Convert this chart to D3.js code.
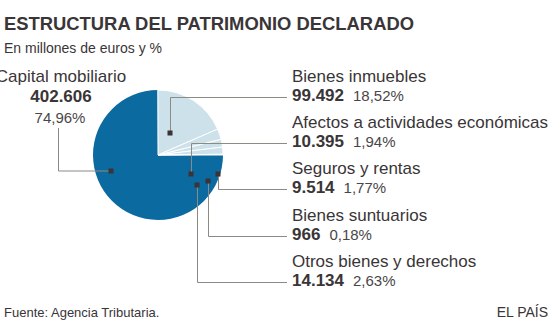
<!DOCTYPE html>
<html>
<head>
<meta charset="utf-8">
<script src="https://cdn.jsdelivr.net/npm/d3@7"></script>
<style>
  html, body { margin: 0; padding: 0; background: #fff; }
  svg { display: block; font-family: "Liberation Sans", Arial, sans-serif; }
</style>
</head>
<body>
<svg id="chart" width="560" height="326"></svg>
<script>
// Patrimonio declarado por tipo de bien (millones de euros)
const categories = [
  "Capital mobiliario",
  "Bienes inmuebles",
  "Afectos a actividades económicas",
  "Seguros y rentas",
  "Bienes suntuarios",
  "Otros bienes y derechos"
];
const values = [402606, 99492, 10395, 9514, 966, 14134];
const valueLabels = ["402.606", "99.492", "10.395", "9.514", "966", "14.134"];
const shareLabels = ["74,96%", "18,52%", "1,94%", "1,77%", "0,18%", "2,63%"];

// Layout
const cx = 158, cy = 155, radius = 65;
const darkBlue = "#0b6aa0", lightBlue = "#cde1eb";
const ink = "#3a3537", lineGrey = "#8c8b83", pctGrey = "#4a4648";

// Leader-line anchors inside the pie (offsets from the centre)
const anchors = [
  [-47, 16], [12, -22], [33, 19], [60, 19], [50, 26], [39, 30]
];
// Label rows on the right-hand side (baseline of the name line)
const rowTop = 82, rowStep = 46.2, labelX = 292, lineEndX = 287;

const svg = d3.select("#chart");

svg.append("text")
  .attr("x", 4).attr("y", 30)
  .attr("font-size", 19).attr("font-weight", "bold")
  .attr("fill", ink)
  .attr("textLength", 410).attr("lengthAdjust", "spacingAndGlyphs")
  .text("ESTRUCTURA DEL PATRIMONIO DECLARADO");

svg.append("text")
  .attr("x", 4).attr("y", 53)
  .attr("font-size", 14).attr("fill", ink)
  .text("En millones de euros y %");

const rows = categories.map((c, i) => ({
  name: c, value: values[i], vLabel: valueLabels[i], pLabel: shareLabels[i], i
}));

// Largest slice first, running clockwise from three o'clock
const pie = d3.pie()
  .value(d => d.value)
  .sort((a, b) => b.value - a.value)
  .startAngle(Math.PI / 2)
  .endAngle(Math.PI / 2 + 2 * Math.PI);

const arc = d3.arc().innerRadius(0).outerRadius(radius);

const g = svg.append("g").attr("transform", `translate(${cx},${cy})`);

g.selectAll("path")
  .data(pie(rows))
  .join("path")
  .attr("d", arc)
  .attr("fill", d => d.data.i === 0 ? darkBlue : lightBlue)
  .attr("stroke", "#fff")
  .attr("stroke-width", d => d.data.i === 0 ? 0 : 1)
  .attr("stroke-linejoin", "round");

// Leader lines
const leaders = svg.append("g")
  .attr("fill", "none").attr("stroke", lineGrey).attr("stroke-width", 1);

// Main slice: label to the left
const capA = [cx + anchors[0][0], cy + anchors[0][1]];
leaders.append("path")
  .attr("d", d3.line()([[capA[0], capA[1]], [58.5, capA[1]], [58.5, 128]]));

rows.slice(1).forEach((r, k) => {
  const a = [cx + anchors[r.i][0], cy + anchors[r.i][1]];
  const lineY = rowTop + rowStep * k + 15;
  const x = Math.round(a[0]) + 0.5;
  leaders.append("path")
    .attr("d", d3.line()([[x, a[1]], [x, Math.round(lineY) + 0.5], [lineEndX, Math.round(lineY) + 0.5]]));
});

// Anchor markers
svg.append("g").selectAll("rect")
  .data(rows)
  .join("rect")
  .attr("x", d => cx + anchors[d.i][0] - 2.5)
  .attr("y", d => cy + anchors[d.i][1] - 2.5)
  .attr("width", 5).attr("height", 5)
  .attr("fill", "#3b3336");

// Right-hand labels
rows.slice(1).forEach((r, k) => {
  const y = rowTop + rowStep * k;
  svg.append("text")
    .attr("x", labelX).attr("y", y)
    .attr("font-size", 17).attr("fill", ink)
    .text(r.name);
  const t = svg.append("text")
    .attr("x", labelX).attr("y", y + 19)
    .attr("fill", ink);
  t.append("tspan").attr("font-size", 17).attr("font-weight", "bold").text(r.vLabel);
  t.append("tspan").attr("font-size", 15).attr("fill", pctGrey).attr("dx", 9).text(r.pLabel);
});

// Left label for the main slice
const capX = 61;
svg.append("text").attr("x", capX).attr("y", 82)
  .attr("text-anchor", "middle").attr("font-size", 17).attr("fill", ink)
  .text(rows[0].name);
svg.append("text").attr("x", capX).attr("y", 102)
  .attr("text-anchor", "middle").attr("font-size", 17).attr("font-weight", "bold").attr("fill", ink)
  .text(rows[0].vLabel);
svg.append("text").attr("x", capX - 1).attr("y", 123)
  .attr("text-anchor", "middle").attr("font-size", 15).attr("fill", pctGrey)
  .text(rows[0].pLabel);

// Footer
svg.append("text").attr("x", 4).attr("y", 317)
  .attr("font-size", 13).attr("fill", ink)
  .text("Fuente: Agencia Tributaria.");
svg.append("text").attr("x", 548).attr("y", 317)
  .attr("text-anchor", "end").attr("font-size", 14).attr("fill", ink)
  .text("EL PAÍS");
</script>
</body>
</html>
